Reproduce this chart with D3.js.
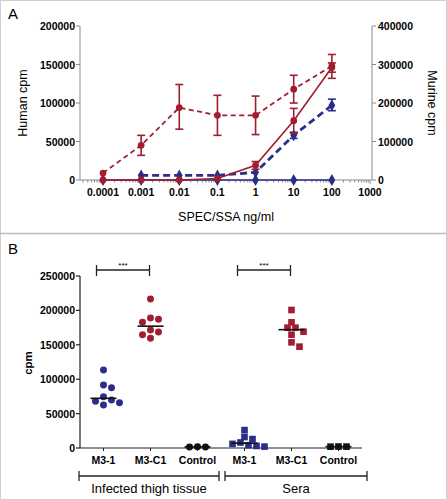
<!DOCTYPE html>
<html><head><meta charset="utf-8">
<script src="https://cdn.jsdelivr.net/npm/d3@7"></script>
<style>body{margin:0;background:#fff}svg{display:block;font-family:"Liberation Sans",Arial,sans-serif}</style>
</head><body><svg id="c" width="447" height="500"></svg>
<script>
// ---------- Panel A data ----------
const concA = [0.0001, 0.001, 0.01, 0.1, 1, 10, 100];
const xTicksA = [0.0001, 0.001, 0.01, 0.1, 1, 10, 100, 1000];
const xTickLabelsA = ["0.0001","0.001","0.01","0.1","1","10","100","1000"];
const humanTicks = [0, 50000, 100000, 150000, 200000];
const murineTicks = [0, 100000, 200000, 300000, 400000];
// human cpm (left axis), solid lines
const humanRed = [0, 0, 0, 2000, 19000, 77000, 146000];
const humanRedLo = [null, null, null, null, 14000, 61000, 140000];
const humanRedHi = [null, null, null, null, 24000, 93000, 152000];
const humanBlue = [0, 0, 0, 0, 0, 0, 0];
// murine cpm (right axis), dashed lines
const murineRed = [18000, 90000, 188000, 168000, 168000, 236000, 296000];
const murineRedLo = [null, 64000, 132000, 116000, 118000, 200000, 264000];
const murineRedHi = [null, 116000, 248000, 220000, 218000, 272000, 326000];
const murineBlue = [null, 12000, 12000, 12000, 20000, 116000, 194000];
const murineBlueLo = [null, null, null, null, null, 108000, 180000];
const murineBlueHi = [null, null, null, null, null, 124000, 210000];

// ---------- Panel B data ----------
const categoriesB = ["M3-1", "M3-C1", "Control", "M3-1", "M3-C1", "Control"];
const groupsB = ["Infected thigh tissue", "Sera"];
const yTicksB = [0, 50000, 100000, 150000, 200000, 250000];
const tissueM31 = [113400, 91600, 87700, 74600, 69800, 67900, 65900, 62500];
const tissueM3C1 = [216600, 189000, 187000, 182700, 171500, 168600, 164700, 159400];
const tissueCtrl = [1600, 1700, 1500];
const seraM31 = [26000, 16000, 13000, 8000, 6000, 4000, 3000, 2000];
const seraM3C1 = [200600, 182700, 174900, 174900, 169100, 164700, 153600, 147300];
const seraCtrl = [2000, 2100, 1900];
const medians = [72200, 177100, 1600, 7000, 172000, 2000];
const sigLabel = ["***", "***"];

const RED = "#a11d2f", BLUE = "#2b2e88", GRAY = "#8a8a8a";
const svg = d3.select("#c");

// frame
svg.append("rect").attr("x",0.5).attr("y",0.5).attr("width",446).attr("height",499)
  .attr("fill","none").attr("stroke","#cfcfcf");
svg.append("line").attr("x1",0).attr("x2",447).attr("y1",233.5).attr("y2",233.5)
  .attr("stroke","#bdbdbd").attr("stroke-width",1.5);

// ================= PANEL A =================
const gA = svg.append("g");
gA.append("text").attr("x",8).attr("y",19).attr("font-size",15).text("A");
const x = d3.scaleLog().domain([0.0001, 1000]).range([103, 370]);
const yL = d3.scaleLinear().domain([0, 200000]).range([180, 26]);
const yR = d3.scaleLinear().domain([0, 400000]).range([180, 26]);
const xStart = 80, xEnd = 372;

// axes lines
gA.append("line").attr("x1",xStart).attr("x2",xEnd).attr("y1",180).attr("y2",180).attr("stroke",GRAY);
gA.append("line").attr("x1",80).attr("x2",80).attr("y1",26).attr("y2",180).attr("stroke",GRAY);
gA.append("line").attr("x1",372).attr("x2",372).attr("y1",26).attr("y2",180).attr("stroke",GRAY);

// x ticks major + minor
const minor = [];
for (let e = -5; e <= 3; e++) for (let m = 2; m <= 9; m++) {
  const v = m * Math.pow(10, e);
  if (x(v) >= xStart && x(v) <= xEnd) minor.push(v);
}
gA.selectAll(".mn").data(minor).join("line")
  .attr("x1",d=>x(d)).attr("x2",d=>x(d)).attr("y1",180).attr("y2",182.5).attr("stroke",GRAY);
gA.selectAll(".mj").data(xTicksA).join("line")
  .attr("x1",d=>x(d)).attr("x2",d=>x(d)).attr("y1",180).attr("y2",184).attr("stroke",GRAY);
gA.selectAll(".xl").data(xTicksA).join("text")
  .attr("x",d=>x(d)).attr("y",196).attr("text-anchor","middle")
  .attr("font-size",10.5).attr("font-weight","bold").text((d,i)=>xTickLabelsA[i]);

// y ticks
gA.selectAll(".yl").data(humanTicks).join("line")
  .attr("x1",76).attr("x2",80).attr("y1",d=>yL(d)).attr("y2",d=>yL(d)).attr("stroke",GRAY);
gA.selectAll(".ylt").data(humanTicks).join("text")
  .attr("x",75).attr("y",d=>yL(d)+4).attr("text-anchor","end")
  .attr("font-size",10.5).attr("font-weight","bold").text(d=>d);
gA.selectAll(".yr").data(murineTicks).join("line")
  .attr("x1",372).attr("x2",376).attr("y1",d=>yR(d)).attr("y2",d=>yR(d)).attr("stroke",GRAY);
gA.selectAll(".yrt").data(murineTicks).join("text")
  .attr("x",378).attr("y",d=>yR(d)+4).attr("text-anchor","start")
  .attr("font-size",10.5).attr("font-weight","bold").text(d=>d);

// titles
gA.append("text").attr("x",226).attr("y",221).attr("text-anchor","middle").attr("font-size",12.5).text("SPEC/SSA ng/ml");
gA.append("text").attr("transform","translate(27,103) rotate(-90)").attr("text-anchor","middle").attr("font-size",12.5).text("Human cpm");
gA.append("text").attr("transform","translate(428,103) rotate(90)").attr("text-anchor","middle").attr("font-size",12.5).text("Murine cpm");

function series(vals, lo, hi, yS, color, dash, width, shape) {
  const pts = concA.map((c,i)=>({c, v: vals[i], lo: lo ? lo[i] : null, hi: hi ? hi[i] : null})).filter(d=>d.v!=null);
  const line = d3.line().x(d=>x(d.c)).y(d=>yS(d.v));
  gA.append("path").datum(pts).attr("d",line).attr("fill","none").attr("stroke",color)
    .attr("stroke-width",width).attr("stroke-dasharray",dash);
  const eb = pts.filter(d=>d.lo!=null);
  gA.selectAll(null).data(eb).join("line")
    .attr("x1",d=>x(d.c)).attr("x2",d=>x(d.c)).attr("y1",d=>yS(d.lo)).attr("y2",d=>yS(d.hi))
    .attr("stroke",color).attr("stroke-width",1.6);
  ["lo","hi"].forEach(k=>{
    gA.selectAll(null).data(eb).join("line")
      .attr("x1",d=>x(d.c)-4).attr("x2",d=>x(d.c)+4).attr("y1",d=>yS(d[k])).attr("y2",d=>yS(d[k]))
      .attr("stroke",color).attr("stroke-width",1.6);
  });
  const sym = d3.symbol().type(shape==="diamond"?d3.symbolDiamond:d3.symbolCircle).size(shape==="diamond"?40:36);
  gA.selectAll(null).data(pts).join("path")
    .attr("transform",d=>`translate(${x(d.c)},${yS(d.v)})`).attr("d",sym).attr("fill",color);
}
series(humanBlue, null, null, yL, BLUE, null, 1.6, "diamond");
series(murineBlue, murineBlueLo, murineBlueHi, yR, BLUE, "7,4", 2.8, "diamond");
series(murineRed, murineRedLo, murineRedHi, yR, RED, "5,3.5", 1.8, "circle");
series(humanRed, humanRedLo, humanRedHi, yL, RED, null, 1.6, "circle");

// ================= PANEL B =================
const gB = svg.append("g");
gB.append("text").attr("x",8).attr("y",254).attr("font-size",15).text("B");
const xb = d3.scaleBand().domain(d3.range(categoriesB.length)).range([80, 362]);
const cx = i => xb(i) + xb.bandwidth()/2;
const yb = d3.scaleLinear().domain([0, 250000]).range([448, 276]);

gB.append("line").attr("x1",80).attr("x2",362).attr("y1",448).attr("y2",448).attr("stroke","#222").attr("stroke-width",1.2);
gB.append("line").attr("x1",80).attr("x2",80).attr("y1",276).attr("y2",448).attr("stroke","#222").attr("stroke-width",1.2);
gB.selectAll(".ybt").data(yTicksB).join("line")
  .attr("x1",76).attr("x2",80).attr("y1",d=>yb(d)).attr("y2",d=>yb(d)).attr("stroke","#222").attr("stroke-width",1.2);
gB.selectAll(".ybl").data(yTicksB).join("text")
  .attr("x",75).attr("y",d=>yb(d)+4).attr("text-anchor","end")
  .attr("font-size",10.5).attr("font-weight","bold").text(d=>d);
gB.selectAll(".xbt").data(categoriesB).join("line")
  .attr("x1",(d,i)=>cx(i)).attr("x2",(d,i)=>cx(i)).attr("y1",448).attr("y2",451).attr("stroke","#222");
gB.selectAll(".xbl").data(categoriesB).join("text")
  .attr("x",(d,i)=>cx(i)).attr("y",464).attr("text-anchor","middle")
  .attr("font-size",10.5).attr("font-weight","bold").text(d=>d);
gB.append("text").attr("transform","translate(32,363) rotate(-90)").attr("text-anchor","middle")
  .attr("font-size",11.5).attr("font-weight","bold").text("cpm");

// group brackets
const gb = [[xb(0)-1, xb(3)-2], [xb(3)+4, xb(5)+xb.bandwidth()+5]];
gb.forEach((g,i)=>{
  gB.append("line").attr("x1",g[0]).attr("x2",g[1]).attr("y1",476).attr("y2",476).attr("stroke","#222").attr("stroke-width",1.3);
  [g[0],g[1]].forEach(xx=>gB.append("line").attr("x1",xx).attr("x2",xx).attr("y1",471).attr("y2",481).attr("stroke","#222").attr("stroke-width",1.3));
  gB.append("text").attr("x",(g[0]+g[1])/2).attr("y",493).attr("text-anchor","middle").attr("font-size",13).text(groupsB[i]);
});

// significance brackets
[[0,1],[3,4]].forEach((p,i)=>{
  const a = cx(p[0])-7, b = cx(p[1])-1, yy = 270;
  gB.append("line").attr("x1",a).attr("x2",b).attr("y1",yy).attr("y2",yy).attr("stroke","#222").attr("stroke-width",1.3);
  [a,b].forEach(xx=>gB.append("line").attr("x1",xx).attr("x2",xx).attr("y1",yy-5).attr("y2",yy+6).attr("stroke","#222").attr("stroke-width",1.3));
  gB.append("text").attr("x",(a+b)/2).attr("y",yy-2.5).attr("text-anchor","middle").attr("font-size",8).text(sigLabel[i]);
});

// scatter with deterministic beeswarm
const dataB = [tissueM31, tissueM3C1, tissueCtrl, seraM31, seraM3C1, seraCtrl];
const colorsB = [BLUE, RED, "#111", BLUE, RED, "#111"];
const R = 3.4;
dataB.forEach((vals, i)=>{
  const placed = [];
  const sorted = vals.slice().sort((a,b)=>b-a);
  sorted.forEach(v=>{
    const py = yb(v);
    let off = 0;
    for (let k = 0; k < 40; k++) {
      const cand = k===0 ? 0 : (k%2 ? 1 : -1) * Math.ceil(k/2) * 4;
      if (placed.every(p => Math.hypot(p[0]-cand, p[1]-py) >= 2*R*0.95)) { off = cand; break; }
    }
    placed.push([off, py]);
  });
  const med = medians[i];
  const sq = i >= 3;
  const sym = d3.symbol().type(sq ? d3.symbolSquare : d3.symbolCircle).size(sq ? 44 : 38);
  gB.selectAll(null).data(placed).join("path")
    .attr("transform",d=>`translate(${cx(i)+d[0]},${d[1]})`).attr("d",sym).attr("fill",colorsB[i]);
  gB.append("line").attr("x1",cx(i)-13).attr("x2",cx(i)+13).attr("y1",yb(med)).attr("y2",yb(med))
    .attr("stroke","#111").attr("stroke-width",1.6);
});
</script></body></html>
